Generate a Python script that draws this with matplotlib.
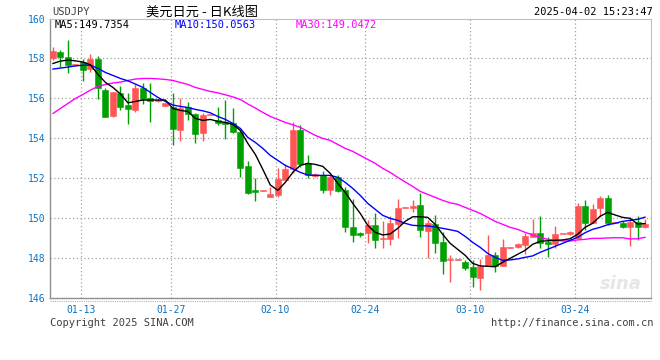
import matplotlib
matplotlib.use("Agg")
import matplotlib.pyplot as plt
from matplotlib.lines import Line2D

# daily candles, oldest first: open, high, low, close
opens = [158.03, 158.31, 158.05, 157.66, 157.80, 157.45, 157.97, 156.42, 155.12, 156.28,
         155.67, 155.42, 156.53, 156.03, 155.86, 155.63, 155.58, 154.42, 155.58, 155.22,
         154.25, 155.16, 154.92, 154.80, 154.78, 154.33, 152.62, 151.42, 151.37, 151.08,
         151.17, 151.92, 152.45, 154.42, 152.78, 152.12, 152.17, 151.42, 152.05, 151.42,
         149.55, 149.25, 149.25, 149.67, 148.95, 148.97, 149.70, 150.54, 150.52, 150.67,
         149.38, 149.70, 148.83, 147.92, 147.93, 147.83, 147.55, 147.00, 147.62, 148.17,
         147.62, 148.54, 148.55, 148.67, 149.08, 149.25, 148.83, 148.70, 149.21, 149.20,
         149.00, 150.62, 149.78, 150.50, 151.00, 149.79, 149.78, 149.58, 149.83, 149.58]
highs = [158.58, 158.42, 158.90, 157.70, 157.95, 158.22, 158.12, 156.50, 156.33, 156.62,
         156.28, 156.72, 156.78, 156.78, 155.95, 155.75, 156.28, 156.00, 155.83, 155.25,
         155.25, 155.18, 155.58, 155.92, 155.50, 154.42, 152.87, 152.00, 151.40, 151.55,
         152.50, 152.72, 154.80, 154.67, 153.17, 152.25, 152.38, 152.17, 152.15, 151.55,
         150.97, 149.33, 149.92, 150.25, 149.88, 150.12, 150.95, 150.56, 150.92, 151.28,
         149.92, 150.17, 149.33, 148.17, 147.97, 147.92, 147.92, 147.95, 149.17, 148.33,
         148.95, 148.56, 148.78, 149.25, 149.95, 150.13, 149.08, 149.62, 149.23, 149.35,
         150.75, 150.92, 150.72, 151.12, 151.17, 149.81, 149.85, 150.05, 150.10, 149.95]
lows = [157.92, 157.58, 157.25, 157.64, 156.88, 157.33, 155.95, 155.05, 155.08, 155.42,
        154.72, 155.33, 155.72, 154.80, 155.80, 155.60, 153.67, 153.88, 154.92, 153.75,
        153.88, 155.16, 154.67, 153.97, 154.25, 152.08, 151.20, 150.88, 151.36, 151.05,
        151.05, 151.90, 152.28, 152.58, 152.00, 152.05, 151.25, 151.17, 151.30, 149.33,
        148.83, 149.08, 148.78, 148.50, 148.50, 148.67, 149.03, 150.53, 150.33, 149.05,
        148.00, 148.28, 147.22, 146.83, 147.90, 147.42, 146.55, 146.42, 147.62, 147.33,
        147.62, 148.53, 148.50, 148.22, 149.05, 148.50, 148.08, 148.50, 149.20, 149.18,
        148.95, 149.42, 149.75, 150.05, 149.67, 149.78, 149.50, 148.63, 148.92, 149.53]
closes = [158.37, 158.08, 157.65, 157.68, 157.42, 157.97, 156.53, 155.08, 156.33, 155.55,
          155.47, 156.53, 155.95, 155.85, 155.88, 155.75, 154.47, 155.53, 155.20, 154.23,
          155.17, 155.17, 154.75, 154.70, 154.30, 152.53, 151.28, 151.33, 151.38, 151.22,
          151.97, 152.47, 154.42, 152.72, 152.17, 152.22, 151.42, 152.05, 151.38, 149.55,
          149.17, 149.15, 149.67, 148.92, 149.02, 149.77, 150.52, 150.56, 150.62, 149.42,
          149.78, 148.78, 147.88, 147.95, 147.95, 147.50, 147.05, 147.62, 148.17, 147.62,
          148.55, 148.56, 148.72, 149.12, 149.25, 148.78, 148.70, 149.20, 149.22, 149.33,
          150.62, 149.78, 150.45, 151.00, 149.78, 149.80, 149.55, 149.83, 149.58, 149.70]

# moving averages as drawn on the chart (they reach back before the first candle)
ma5 = [157.75, 157.87, 157.92, 157.88, 157.82, 157.68, 157.20, 156.80, 156.55, 156.22,
       155.78, 155.85, 155.92, 155.92, 155.92, 155.92, 155.50, 155.40, 155.35, 155.00,
       154.90, 154.95, 154.85, 154.80, 154.70, 154.40, 153.75, 153.20, 152.45, 151.67,
       151.40, 151.80, 152.30, 152.65, 152.75, 152.70, 152.60, 152.25, 151.75, 151.30,
       150.75, 150.25, 149.65, 149.30, 149.17, 149.22, 149.50, 149.85, 150.08, 150.08,
       150.05, 149.70, 149.20, 148.75, 148.45, 148.15, 147.75, 147.62, 147.60, 147.58,
       147.80, 148.00, 148.20, 148.40, 148.70, 148.85, 148.88, 148.90, 148.92, 148.98,
       149.20, 149.55, 149.75, 150.10, 150.30, 150.17, 150.05, 150.00, 149.72, 149.74]
ma10 = [157.47, 157.52, 157.57, 157.63, 157.66, 157.67, 157.50, 157.30, 157.15, 157.00,
        156.88, 156.72, 156.55, 156.30, 156.05, 155.85, 155.67, 155.60, 155.55, 155.45,
        155.38, 155.28, 155.10, 154.95, 154.75, 154.50, 154.05, 153.80, 153.50, 153.15,
        152.90, 152.65, 152.48, 152.30, 152.17, 152.15, 152.15, 152.15, 152.05, 151.80,
        151.50, 151.15, 150.75, 150.45, 150.15, 150.00, 149.90, 149.75, 149.65, 149.63,
        149.62, 149.57, 149.50, 149.43, 149.35, 149.10, 148.80, 148.55, 148.25, 148.05,
        147.90, 147.92, 147.97, 148.05, 148.12, 148.30, 148.45, 148.60, 148.75, 148.90,
        149.05, 149.28, 149.45, 149.55, 149.68, 149.75, 149.85, 149.90, 149.95, 150.06]
ma30 = [155.25, 155.50, 155.75, 156.00, 156.20, 156.42, 156.60, 156.70, 156.77, 156.82,
        156.90, 156.97, 157.00, 157.00, 156.98, 156.95, 156.90, 156.80, 156.70, 156.55,
        156.45, 156.35, 156.28, 156.18, 156.08, 155.95, 155.72, 155.52, 155.30, 155.10,
        154.95, 154.80, 154.68, 154.55, 154.35, 154.15, 154.00, 153.90, 153.70, 153.50,
        153.35, 153.15, 152.95, 152.75, 152.50, 152.30, 152.05, 151.82, 151.60, 151.35,
        151.20, 151.05, 150.90, 150.78, 150.70, 150.55, 150.40, 150.25, 150.05, 149.85,
        149.70, 149.55, 149.45, 149.30, 149.17, 149.05, 148.95, 148.90, 148.87, 148.87,
        148.92, 148.95, 149.00, 149.00, 149.02, 149.03, 149.03, 148.97, 148.98, 149.05]

# candle index of each dated grid line
tick_idx = [4, 16, 30, 42, 56, 70]
tick_labels = ["01-13", "01-27", "02-10", "02-24", "03-10", "03-24"]
y_ticks = [146, 148, 150, 152, 154, 156, 158, 160]

UP = "#ff5555"
DOWN = "#00a000"
BLUE_TXT = "#0a74c4"
GRID = "#a0a0a0"
MONO = "DejaVu Sans Mono"

W, H = 660, 360
fig = plt.figure(figsize=(6.6, 3.6), dpi=100)
ax = fig.add_axes([50 / W, 1 - 298.3 / H, 601 / W, 279.8 / H])


def px(x, y):
    """Figure fraction from pixel position (origin top-left)."""
    return x / W, 1 - y / H


n = len(closes)
xs = list(range(n))
colors = [UP if c >= o else DOWN for o, c in zip(opens, closes)]
bottoms = [min(o, c) for o, c in zip(opens, closes)]
heights = [max(abs(c - o), 0.04) for o, c in zip(opens, closes)]

ax.vlines(xs, lows, highs, colors=colors, linewidth=1.0, zorder=2)
ax.bar(xs, heights, bottom=bottoms, width=0.8, color=colors,
       edgecolor=colors, linewidth=0.4, zorder=3)

ax.plot(xs, ma30, color="#ff00ff", linewidth=1.0, zorder=4)
ax.plot(xs, ma10, color="#0000ff", linewidth=1.0, zorder=4)
ax.plot(xs, ma5, color="#000000", linewidth=1.0, zorder=5)

ax.set_xlim(-0.4, 79.8)
ax.set_ylim(146, 160)

grid_x = [t - 0.3 for t in tick_idx]
for gx in grid_x:
    ax.axvline(gx, color=GRID, linestyle=(0, (1, 2)), linewidth=0.9, zorder=1)
for gy in y_ticks[1:-1]:
    ax.axhline(gy, color=GRID, linestyle=(0, (1, 2)), linewidth=0.9, zorder=1)

ax.set_xticks(grid_x)
ax.set_xticklabels(tick_labels, family=MONO, fontsize=7, color=BLUE_TXT)
ax.set_yticks(y_ticks)
ax.set_yticklabels([str(v) for v in y_ticks], family=MONO, fontsize=7, color=BLUE_TXT)
ax.tick_params(length=0, pad=3)
ax.tick_params(axis="x", pad=5)

for side in ("top", "right"):
    ax.spines[side].set_color("#c0c0c0")
    ax.spines[side].set_linewidth(0.8)
for side in ("left", "bottom"):
    ax.spines[side].set_color("#909090")
    ax.spines[side].set_linewidth(1.0)

# dotted rule under the plot frame
fig.add_artist(Line2D([50 / W, 651 / W], [1 - 301 / H, 1 - 301 / H],
                      color="#b0b0b0", linestyle=(0, (1, 1)), linewidth=0.8))

# header
fig.text(*px(52, 12), "USDJPY", family=MONO, fontsize=7.5, color="#404040",
         ha="left", va="center")
fig.text(*px(202, 12), "美元日元 - 日K线图", family=["Noto Sans CJK SC", "DejaVu Sans"],
         fontsize=9.5, color="black", ha="center", va="center")
fig.text(*px(653, 12), "2025-04-02 15:23:47", family=MONO, fontsize=7.5,
         color="black", ha="right", va="center")

# moving-average legend
fig.text(*px(55, 25), "MA5:149.7354", family=MONO, fontsize=7.5,
         color="black", ha="left", va="center")
fig.text(*px(175, 25), "MA10:150.0563", family=MONO, fontsize=7.5,
         color="#0000ff", ha="left", va="center")
fig.text(*px(296, 25), "MA30:149.0472", family=MONO, fontsize=7.5,
         color="#ff00ff", ha="left", va="center")

# footer
fig.text(*px(50, 323), "Copyright 2025 SINA.COM", family=MONO, fontsize=7.5,
         color="#404040", ha="left", va="center")
fig.text(*px(653, 323), "http://finance.sina.com.cn", family=MONO, fontsize=7.5,
         color="#404040", ha="right", va="center")

# faint watermark
ax.text(0.985, 0.02, "sina", transform=ax.transAxes, fontsize=13,
        fontstyle="italic", fontweight="bold", color="#e6e6e6",
        ha="right", va="bottom", zorder=0)

fig.savefig("out.png", dpi=100)
